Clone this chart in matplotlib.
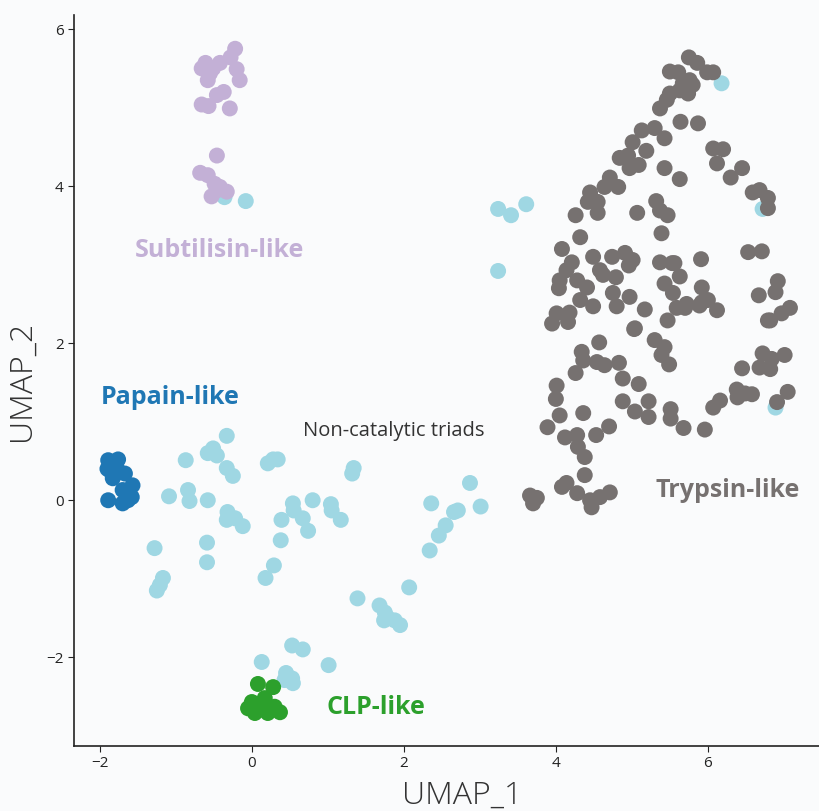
import matplotlib
matplotlib.use("Agg")
import matplotlib.pyplot as plt

# UMAP coordinates
subtilisin_x = [-0.22, -0.28, -0.42, -0.61, -0.66, -0.51, -0.20, -0.16, -0.58, -0.55, -0.37, -0.46,
                -0.66, -0.57, -0.29, -0.46, -0.68, -0.58, -0.49, -0.42, -0.33, -0.53, -0.45]
subtilisin_y = [5.75, 5.64, 5.57, 5.57, 5.50, 5.50, 5.49, 5.35, 5.35, 5.44, 5.20, 5.16,
                5.04, 5.02, 4.99, 4.39, 4.17, 4.14, 4.03, 3.99, 3.93, 3.87, 3.95]

papain_x = [-1.89, -1.76, -1.87, -1.67, -1.83, -1.57, -1.70, -1.58, -1.89, -1.70, -1.90, -1.78, -1.63]
papain_y = [0.51, 0.52, 0.38, 0.34, 0.28, 0.19, 0.13, 0.04, 0.00, -0.04, 0.40, 0.42, 0.00]

clp_x = [0.08, 0.28, 0.00, 0.17, -0.05, 0.11, 0.30, 0.37, 0.21, 0.04]
clp_y = [-2.34, -2.38, -2.57, -2.52, -2.65, -2.65, -2.63, -2.70, -2.71, -2.71]

noncat_x = [-0.33, -0.51, -0.58, -0.87, -0.46, -0.33, -0.25, -0.84, -0.82, -1.09, -0.58,
            -0.32, -0.22, -0.12, -0.33, -0.59, -0.59, -1.28, -1.17, -1.21, -1.25,
            0.21, 0.28, 0.34, 0.54, 0.55, 0.39, 0.80, 0.67, 0.74, 0.38, 0.29, 0.18,
            1.34, 1.32, 1.04, 1.05, 1.17, 2.36, 2.87, 3.01, 2.66, 2.55, 2.46, 2.71, 2.34,
            2.07, 1.39, 1.68, 1.75, 1.79, 1.88, 1.95, 1.74, 0.53, 0.67, 0.13, 1.01,
            0.45, 0.53, 0.43, 0.54,
            3.24, 3.41, 3.61, 3.24, -0.08, -0.36, 6.18, 6.72, 6.89]
noncat_y = [0.82, 0.66, 0.60, 0.51, 0.57, 0.41, 0.31, 0.13, -0.01, 0.05, 0.00,
            -0.15, -0.23, -0.33, -0.25, -0.54, -0.79, -0.61, -0.99, -1.08, -1.15,
            0.47, 0.52, 0.52, -0.04, -0.13, -0.25, 0.00, -0.23, -0.39, -0.51, -0.83, -0.99,
            0.41, 0.34, -0.05, -0.13, -0.25, -0.04, 0.22, -0.08, -0.15, -0.32, -0.45, -0.13, -0.64,
            -1.11, -1.25, -1.34, -1.43, -1.50, -1.53, -1.59, -1.53, -1.85, -1.90, -2.06, -2.10,
            -2.20, -2.27, -2.29, -2.33,
            3.71, 3.63, 3.77, 2.92, 3.81, 3.86, 5.31, 3.71, 1.18]

trypsin_x = [5.75, 5.86, 5.99, 6.07, 5.50, 5.61, 5.76, 5.67, 5.80, 5.63, 5.74, 5.50, 5.46, 5.37,
             5.64, 5.87, 5.13, 5.30, 5.43, 5.01, 5.19, 4.84, 4.95, 4.97, 5.09, 5.43, 5.63,
             6.07, 6.20, 6.12, 6.45, 6.30, 4.71, 4.64, 4.82, 6.59, 6.68, 6.79, 6.79,
             4.45, 4.55, 4.42, 4.55, 4.26, 5.07, 5.32, 5.37, 5.47, 5.39, 4.32, 4.08, 6.53, 6.71,
             4.49, 4.74, 4.91, 5.01, 4.96, 5.37, 5.53, 5.91, 4.21, 4.14, 4.58, 4.05, 4.04,
             4.28, 4.41, 4.62, 4.79, 5.43, 5.63, 5.54, 5.92, 6.92, 6.89, 6.67, 4.75, 4.97,
             4.32, 4.49, 4.80, 5.17, 4.01, 4.18, 3.95, 4.16, 5.59, 5.72, 5.47, 5.89, 6.00,
             6.12, 7.08, 6.97, 6.82, 5.04, 6.79, 5.03, 5.30, 5.43, 5.39, 5.49, 4.57, 4.34,
             4.36, 4.54, 4.64, 4.83, 4.26, 4.88, 5.09, 4.01, 4.00, 4.88, 5.22, 5.04, 5.22,
             5.51, 5.51, 5.68, 5.96, 4.05, 4.36, 3.89, 4.12, 4.28, 4.29, 4.38, 4.53, 4.70,
             6.45, 6.72, 6.84, 7.01, 6.68, 6.82, 6.38, 6.49, 6.58, 6.39, 6.16, 6.07, 7.05,
             6.91, 4.38, 4.14, 4.28, 4.08, 4.45, 4.58, 4.71, 4.47, 3.66, 3.70, 3.75,
             5.92, 5.56, 5.70]
trypsin_y = [5.64, 5.57, 5.45, 5.45, 5.46, 5.45, 5.35, 5.31, 5.29, 5.22, 5.18, 5.18, 5.10, 4.99,
             4.82, 4.80, 4.71, 4.74, 4.61, 4.56, 4.45, 4.36, 4.39, 4.23, 4.27, 4.23, 4.09,
             4.48, 4.47, 4.29, 4.23, 4.11, 4.11, 3.99, 3.99, 3.92, 3.95, 3.85, 3.72,
             3.92, 3.80, 3.80, 3.66, 3.63, 3.66, 3.81, 3.69, 3.63, 3.40, 3.35, 3.20, 3.16, 3.17,
             3.10, 3.10, 3.15, 3.06, 2.99, 3.03, 3.02, 3.07, 3.03, 2.93, 2.93, 2.80, 2.70,
             2.80, 2.71, 2.87, 2.84, 2.76, 2.85, 2.64, 2.71, 2.79, 2.65, 2.61, 2.64, 2.59,
             2.55, 2.47, 2.47, 2.43, 2.38, 2.39, 2.25, 2.27, 2.45, 2.50, 2.29, 2.48, 2.55,
             2.42, 2.45, 2.38, 2.29, 2.19, 2.29, 2.18, 2.04, 1.95, 1.85, 1.73, 2.01, 1.89,
             1.78, 1.76, 1.72, 1.75, 1.62, 1.55, 1.48, 1.46, 1.29, 1.26, 1.26, 1.13, 1.06,
             1.16, 1.04, 0.92, 0.90, 1.08, 1.11, 0.93, 0.80, 0.83, 0.68, 0.55, 0.83, 0.94,
             1.68, 1.87, 1.80, 1.85, 1.69, 1.67, 1.41, 1.36, 1.35, 1.31, 1.27, 1.18, 1.38,
             1.25, 0.32, 0.22, 0.09, 0.17, 0.00, 0.04, 0.10, -0.09, 0.06, -0.04, 0.03,
             2.52, 3.02, 2.45]

groups = [
    (noncat_x, noncat_y, '#9fd7e3'),
    (subtilisin_x, subtilisin_y, '#c3b0d6'),
    (papain_x, papain_y, '#1f77b4'),
    (clp_x, clp_y, '#2ca02c'),
    (trypsin_x, trypsin_y, '#767170'),
]

labels = [
    ('Subtilisin-like', -0.42, 3.18, '#c3b0d6', 'bold'),
    ('Papain-like', -1.07, 1.31, '#1f77b4', 'bold'),
    ('Non-catalytic triads', 1.87, 0.88, '#333333', 'normal'),
    ('Trypsin-like', 6.26, 0.13, '#767170', 'bold'),
    ('CLP-like', 1.63, -2.64, '#2ca02c', 'bold'),
]

plt.rcParams['font.family'] = ['Open Sans', 'DejaVu Sans']

bg = '#fafbfc'
fig = plt.figure(figsize=(8.19, 8.11), dpi=100, facecolor=bg)
ax = fig.add_axes([74 / 819, 65 / 811, 776 / 819, 731 / 811])
ax.set_facecolor(bg)

for gx, gy, col in groups:
    ax.scatter(gx, gy, s=132, color=col, edgecolors='none')

for txt, tx, ty, col, w in labels:
    size = 14.5 if w == 'normal' else 18
    ax.text(tx, ty, txt, color=col, fontsize=size, fontweight=w, ha='center', va='center')

ax.set_xlim(-2.34, 7.87)
ax.set_ylim(-3.13, 6.18)
ax.set_xticks([-2, 0, 2, 4, 6])
ax.set_yticks([-2, 0, 2, 4, 6])
ax.spines['top'].set_visible(False)
ax.spines['right'].set_visible(False)
for s in ['left', 'bottom']:
    ax.spines[s].set_color('#222222')
    ax.spines[s].set_linewidth(1.2)
ax.tick_params(labelsize=11, length=4, color='#222222', labelcolor='#222222')
ax.set_xlabel('UMAP_1', fontsize=23, fontweight='light', color='#333333', labelpad=6)
ax.set_ylabel('UMAP_2', fontsize=23, fontweight='light', color='#333333', labelpad=6)

fig.savefig('out.png', dpi=100, facecolor=bg)
